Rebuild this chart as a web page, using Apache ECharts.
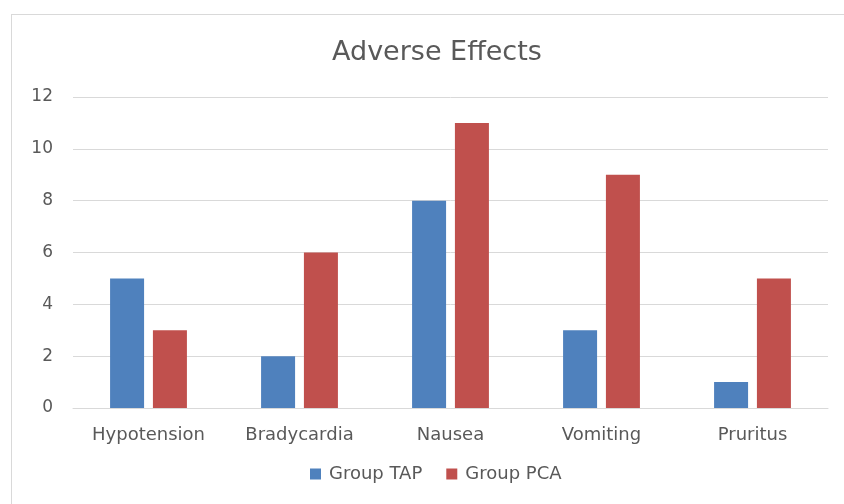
<!DOCTYPE html>
<html>
<head>
<meta charset="utf-8">
<script src="https://cdn.jsdelivr.net/npm/echarts@6/dist/echarts.min.js"></script>
<style>
  html, body { margin: 0; padding: 0; background: #fff; }
  #frame { position: absolute; left: 11px; top: 14px; width: 840px; height: 500px; border: 1px solid #d9d9d9; box-sizing: border-box; }
  #chart { position: absolute; left: 0; top: 0; width: 844px; height: 504px; }
</style>
</head>
<body>
<div id="frame"></div>
<div id="chart"></div>
<script>
// Incidence of adverse effects per group
const categories = ['Hypotension', 'Bradycardia', 'Nausea', 'Vomiting', 'Pruritus'];
const groupTAP = [5, 2, 8, 3, 1];
const groupPCA = [3, 6, 11, 9, 5];
const yTicks = [0, 2, 4, 6, 8, 10, 12];

const font = '"DejaVu Sans", "Open Sans", sans-serif';
const textColor = '#595959';

const chart = echarts.init(document.getElementById('chart'), null, { renderer: 'canvas' });
chart.setOption({
  animation: false,
  title: {
    text: 'Adverse Effects',
    left: 327,
    top: 34,
    textStyle: { fontFamily: font, fontSize: 27, fontWeight: 'normal', color: textColor }
  },
  legend: {
    bottom: 16,
    left: 305,
    itemWidth: 11,
    itemHeight: 11,
    itemGap: 24,
    icon: 'rect',
    textStyle: { fontFamily: font, fontSize: 18, color: textColor, padding: [0, 0, 0, 3] },
    data: ['Group TAP', 'Group PCA']
  },
  grid: { left: 73, right: 16, top: 97, bottom: 96, containLabel: false },
  xAxis: {
    type: 'category',
    data: categories,
    axisTick: { show: false },
    axisLine: { lineStyle: { color: '#d9d9d9', width: 1 } },
    axisLabel: { fontFamily: font, fontSize: 18, color: textColor, margin: 18 }
  },
  yAxis: {
    type: 'value',
    min: yTicks[0],
    max: yTicks[yTicks.length - 1],
    interval: 2,
    axisLine: { show: false },
    axisTick: { show: false },
    splitLine: { lineStyle: { color: '#d9d9d9', width: 1 } },
    axisLabel: { fontFamily: font, fontSize: 17, color: textColor, margin: 20 }
  },
  series: [
    {
      name: 'Group TAP',
      type: 'bar',
      data: groupTAP,
      barWidth: 34,
      barGap: '26%',
      itemStyle: { color: '#4f81bd' }
    },
    {
      name: 'Group PCA',
      type: 'bar',
      data: groupPCA,
      barWidth: 34,
      itemStyle: { color: '#c0504d' }
    }
  ]
});
</script>
</body>
</html>
